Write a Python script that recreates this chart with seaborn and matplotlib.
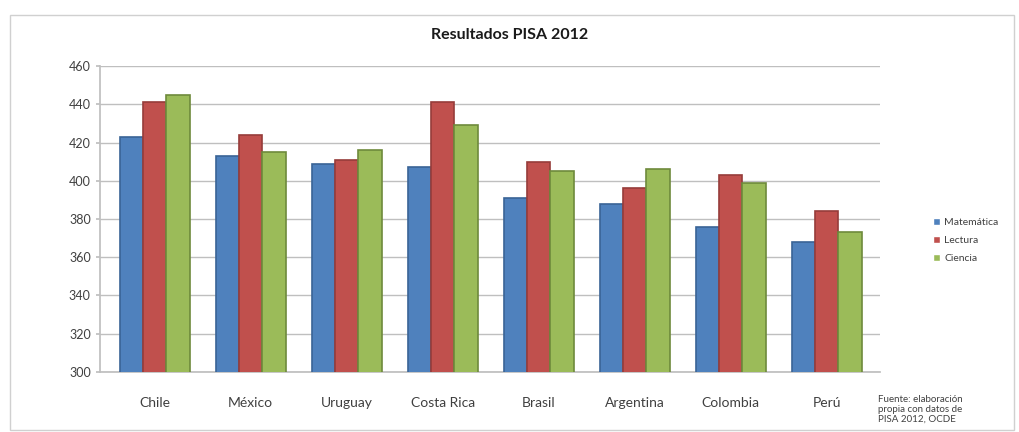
import matplotlib
matplotlib.use("Agg")
import matplotlib.pyplot as plt
import seaborn as sns
import pandas as pd
from matplotlib.patches import Rectangle

paises = ["Chile", "México", "Uruguay", "Costa Rica", "Brasil", "Argentina", "Colombia", "Perú"]
matematica = [423, 413, 409, 407, 391, 388, 376, 368]
lectura = [441, 424, 411, 441, 410, 396, 403, 384]
ciencia = [445, 415, 416, 429, 405, 406, 399, 373]
series = ["Matemática", "Lectura", "Ciencia"]
colores = ["#4F81BD", "#C0504D", "#9BBB59"]
bordes = ["#3A6496", "#963C3A", "#6E8A3C"]
yticks = [300, 320, 340, 360, 380, 400, 420, 440, 460]

rows = []
for s, vals in zip(series, [matematica, lectura, ciencia]):
    for p, v in zip(paises, vals):
        rows.append({"País": p, "Serie": s, "Puntaje": v})
df = pd.DataFrame(rows)

sns.set_theme(style="white")
plt.rcParams["font.family"] = ["Lato", "DejaVu Sans"]

fig = plt.figure(figsize=(10.19, 4.32), dpi=100)
ax = fig.add_axes([0.098, 0.139, 0.766, 0.708])

sns.barplot(data=df, x="País", y="Puntaje", hue="Serie", order=paises,
            hue_order=series, palette=colores, width=0.73, ax=ax,
            errorbar=None, saturation=1, zorder=3)
for i, cont in enumerate(ax.containers):
    for bar in cont:
        bar.set_edgecolor(bordes[i])
        bar.set_linewidth(1.2)

ax.set_ylim(300, 460)
ax.set_yticks(yticks)
ax.set_xlim(-0.57, 7.56)
ax.yaxis.grid(True, color="#BFBFBF", linewidth=1.0, zorder=0)
ax.set_xlabel("")
ax.set_ylabel("")
for side in ["top", "right"]:
    ax.spines[side].set_visible(False)
ax.spines["left"].set_color("#BFBFBF")
ax.spines["bottom"].set_color("#BFBFBF")
ax.tick_params(axis="y", labelsize=9, colors="#404040", length=3, left=True, color="#BFBFBF")
ax.tick_params(axis="x", labelsize=10, colors="#404040", pad=12)

handles, labels = ax.get_legend_handles_labels()
ax.legend(handles, labels, loc="center left", bbox_to_anchor=(1.055, 0.43), frameon=False,
          fontsize=7.5, handlelength=0.7, handleheight=0.7, labelcolor="#404040",
          handletextpad=0.4, labelspacing=0.85)

fig.text(0.5, 0.92, "Resultados PISA 2012", ha="center", va="center",
         fontsize=11.5, fontweight="bold", color="#1A1A1A")
fig.text(0.862, 0.052, "Fuente: elaboración\npropia con datos de\nPISA 2012, OCDE",
         ha="left", va="center", fontsize=7, color="#404040", linespacing=1.1)

fig.patches.append(Rectangle((0.01, 0.005), 0.985, 0.96, transform=fig.transFigure,
                             fill=False, edgecolor="#D0D0D0", linewidth=1.0))

fig.savefig("out.png", dpi=100, facecolor="white")
